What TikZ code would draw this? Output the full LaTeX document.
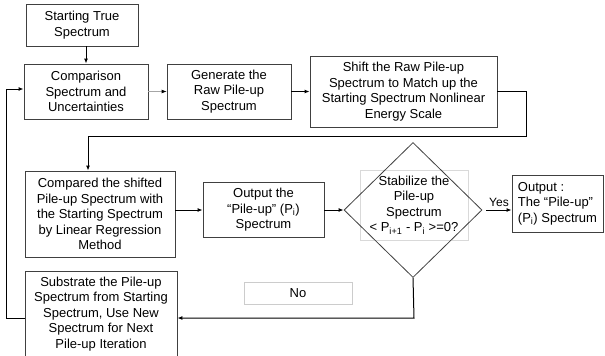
\documentclass[tikz,border=0pt]{standalone}
\usepackage{fontspec}
\setmainfont{Liberation Sans}
\usetikzlibrary{shapes.geometric,arrows.meta}

\tikzset{
  stepbox/.style={draw=black!75, line width=0.8pt, align=center, inner sep=2pt},
  flow/.style={black, line width=1pt, -{Latex[length=5pt,width=4pt]}},
  lightflow/.style={black!35, line width=0.8pt, -{Latex[length=5pt,width=4pt,color=black]}},
}

\begin{document}
\begin{tikzpicture}[x=1pt,y=-1pt,font=\fontsize{13}{15.5}\selectfont]
        \useasboundingbox (0,0) rectangle (605,356);
        % boxes
        \node[stepbox, minimum width=112pt, minimum height=42pt] (start) at (82,25) {Starting True\\Spectrum};
        \node[stepbox, minimum width=124pt, minimum height=55pt] (comp) at (86,91.5) {Comparison\\Spectrum and\\Uncertainties};
        \node[stepbox, minimum width=124pt, minimum height=55pt] (gen) at (229,91.5) {Generate the\\Raw Pile-up\\Spectrum};
        \node[stepbox, minimum width=187pt, minimum height=71pt] (shift) at (403.5,91.5) {Shift the Raw Pile-up\\Spectrum to Match up the\\Starting Spectrum Nonlinear\\Energy Scale};
        \node[stepbox, minimum width=150pt, minimum height=86pt] (compd) at (100,214) {Compared the shifted\\Pile-up Spectrum with\\the Starting Spectrum\\by Linear Regression\\Method};
        \node[stepbox, minimum width=121pt, minimum height=55pt] (out) at (263.5,210) {Output the\\“Pile-up” (P\textsubscript{i})\\Spectrum};
        \node[draw=black!15, line width=0.6pt, minimum width=108pt, minimum height=70pt, align=center] (stabtxt) at (414,205) {Stabilize the\\Pile-up\\Spectrum\\< P\textsubscript{i+1} - P\textsubscript{i} >=0?};
        \node[diamond, draw=black!75, line width=0.8pt, minimum width=138pt, minimum height=135pt, inner sep=0pt] (stab) at (413,210) {};
        \node[stepbox, align=left, minimum width=91pt, minimum height=57pt] (res) at (557.5,203.5) {Output :\\The “Pile-up”\\(P\textsubscript{i}) Spectrum};
        \node[stepbox, minimum width=152pt, minimum height=86pt] (sub) at (101,314) {Substrate the Pile-up\\Spectrum from Starting\\Spectrum, Use New\\Spectrum for Next\\Pile-up Iteration};
        \node[draw=black!20, line width=0.6pt, minimum width=108pt, minimum height=22pt] (nolbl) at (298,293) {No};

        % connectors
        \coordinate (bendA) at (526,136);
        \coordinate (bendB) at (88,136);
        \coordinate (bendC) at (414,318);
        \coordinate (bendD) at (6,318);
        \coordinate (bendE) at (6,89);
        \draw[flow] (comp.north |- start.south) -- (comp.north);
        \draw[lightflow] (comp.east) -- (gen.west);
        \draw[flow] (gen.east) -- (shift.west);
        \draw[flow] (shift.east) -| (bendA) -- (bendB) -- (bendB |- compd.north);
        \draw[flow] (compd.east |- out.west) -- (out.west);
        \draw[flow] (out.east) -- (stab.west);
        \draw[flow] ([xshift=4pt]stab.east) -- (res.west |- stab.east) node[midway, above, font=\fontsize{12}{14}\selectfont] {Yes};
        \draw[flow] (stab.south) -- (bendC) -- (bendC -| sub.east);
        \draw[flow] (sub.west |- bendD) -- (bendD) -- (bendE) -- (bendE -| comp.west);
\end{tikzpicture}
\end{document}
